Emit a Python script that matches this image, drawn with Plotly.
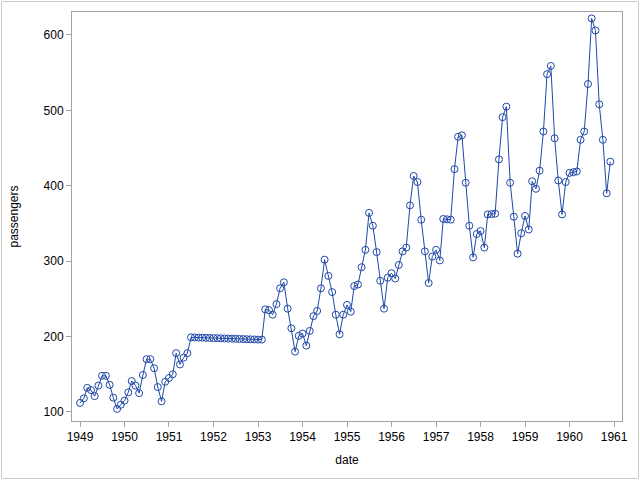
import pandas as pd
import plotly.graph_objects as go

start_month = "1949-01-01"
n_months = 144

passengers = [
    112, 118, 132, 129, 121, 135, 148, 148, 136, 119, 104, 109.5,
    115, 126, 141, 135, 125, 149, 170, 170, 158, 133, 114, 140,
    145, 150, 178, 163, 172, 178, 199, 198.83, 198.67, 198.5, 198.33, 198.17,
    198, 197.83, 197.67, 197.5, 197.33, 197.17, 197, 196.83, 196.67, 196.5, 196.33, 196.17,
    196, 196, 236, 235, 229, 243, 264, 272, 237, 211, 180, 201,
    204, 188, 207.5, 227, 234, 264, 302, 280.5, 259, 229, 203, 229,
    242, 233, 267, 269, 292, 315, 364, 347, 312, 274, 237, 278,
    284, 277, 295, 313, 318, 374, 413, 405, 355, 313, 271, 306,
    315, 301, 356, 355.5, 355, 422, 465, 467, 404, 347, 305, 336,
    340, 318, 362, 362.5, 363, 435, 491, 505, 404, 359, 310, 337,
    360, 342, 406, 396, 420, 472, 548, 559, 463, 407, 362, 405,
    417, 418, 419, 461, 472, 535, 622, 606, 508, 461, 390, 432,
]

dates = pd.date_range(start_month, periods=n_months, freq="MS")
year_ticks = [f"{y}-01-01" for y in range(1949, 1962)]
year_labels = [str(y) for y in range(1949, 1962)]
y_ticks = [100, 200, 300, 400, 500, 600]

line_color = "#1f48a8"
frame_color = "#a3a3a3"
font_family = "Liberation Sans, Arial, sans-serif"

fig = go.Figure(
    go.Scatter(
        x=dates,
        y=passengers,
        mode="lines+markers",
        line=dict(color=line_color, width=1),
        marker=dict(symbol="circle-open", size=7, color=line_color, line=dict(width=1)),
        showlegend=False,
    )
)

L, R, T, B = 72, 18, 12, 59
W, H = 640, 480
pw, ph = W - L - R, H - T - B

fig.update_layout(
    width=W,
    height=H,
    margin=dict(l=L, r=R, t=T, b=B, autoexpand=False),
    paper_bgcolor="white",
    plot_bgcolor="white",
    font=dict(family=font_family, size=12, color="#000000"),
    shapes=[
        dict(
            type="rect", xref="paper", yref="paper",
            x0=(1.5 - L) / pw, x1=(W - 1.5 - L) / pw,
            y0=(H - B - (H - 1.5)) / ph, y1=(H - B - 1.5) / ph,
            line=dict(color="#c8c8c8", width=1), fillcolor="rgba(0,0,0,0)",
            layer="above",
        )
    ],
)

fig.update_xaxes(
    type="date",
    range=["1948-10-27", "1961-03-07"],
    tickmode="array",
    tickvals=year_ticks,
    ticktext=year_labels,
    ticks="outside",
    ticklen=5,
    tickcolor=frame_color,
    showline=True,
    linecolor=frame_color,
    linewidth=1,
    mirror=True,
    showgrid=False,
    zeroline=False,
    automargin=False,
    tickfont=dict(size=12, color="#000000"),
    title=dict(text="date", font=dict(size=12), standoff=12),
)

fig.update_yaxes(
    range=[88, 630.5],
    tickmode="array",
    tickvals=y_ticks,
    ticks="outside",
    ticklen=5,
    tickcolor=frame_color,
    showline=True,
    linecolor=frame_color,
    linewidth=1,
    mirror=True,
    showgrid=False,
    zeroline=False,
    automargin=False,
    tickfont=dict(size=12, color="#000000"),
    title=dict(text="passengers", font=dict(size=12), standoff=22),
)

fig.write_html(
    "out.html",
    config={"displayModeBar": False},
    post_script="document.body.style.margin='0';document.body.style.overflow='hidden';",
)
